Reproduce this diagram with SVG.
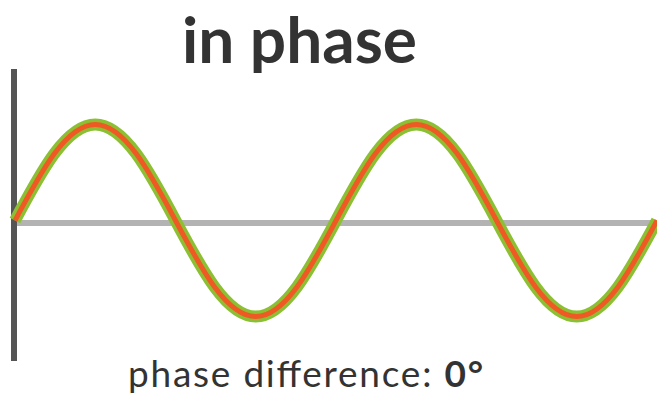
<svg xmlns="http://www.w3.org/2000/svg" xmlns:xlink="http://www.w3.org/1999/xlink" width="657" height="404" viewBox="0 0 657 404">
<style>
.t{font-family:Lato,"Open Sans","Liberation Sans",sans-serif;fill:#333}
.title{font-size:64px;font-weight:bold}
.cap{font-size:37px}
.wave{fill:none;stroke-linecap:butt;stroke-linejoin:round}
</style>
<defs>
<path id="sine" d="M15,220.5 C41.17,171.32 66.21,124.5 95.25,124.5 C124.29,124.5 149.33,171.32 175.5,220.5 C201.67,269.68 226.71,316.5 255.75,316.5 C284.79,316.5 309.83,269.68 336,220.5 C362.17,171.32 387.21,124.5 416.25,124.5 C445.29,124.5 470.33,171.32 496.5,220.5 C522.67,269.68 547.71,316.5 576.75,316.5 C605.79,316.5 630.83,269.68 657,220.5"/>
</defs>
<rect width="657" height="404" fill="#fff"/>
<g id="axes">
<line x1="14" y1="223" x2="657" y2="223" stroke="#b3b3b3" stroke-width="6"/>
<line x1="14" y1="69" x2="14" y2="361" stroke="#555" stroke-width="6"/>
</g>
<g id="waves">
<use xlink:href="#sine" class="wave" stroke="#8cc034" stroke-width="12"/>
<use xlink:href="#sine" class="wave" stroke="#ef5a24" stroke-width="5"/>
</g>
<text id="title" class="t title" x="182" y="63" textLength="235" lengthAdjust="spacing">in phase</text>
<text id="caption" class="t cap" x="128" y="387" textLength="355" lengthAdjust="spacing">phase difference: <tspan font-weight="bold">0°</tspan></text>
</svg>
